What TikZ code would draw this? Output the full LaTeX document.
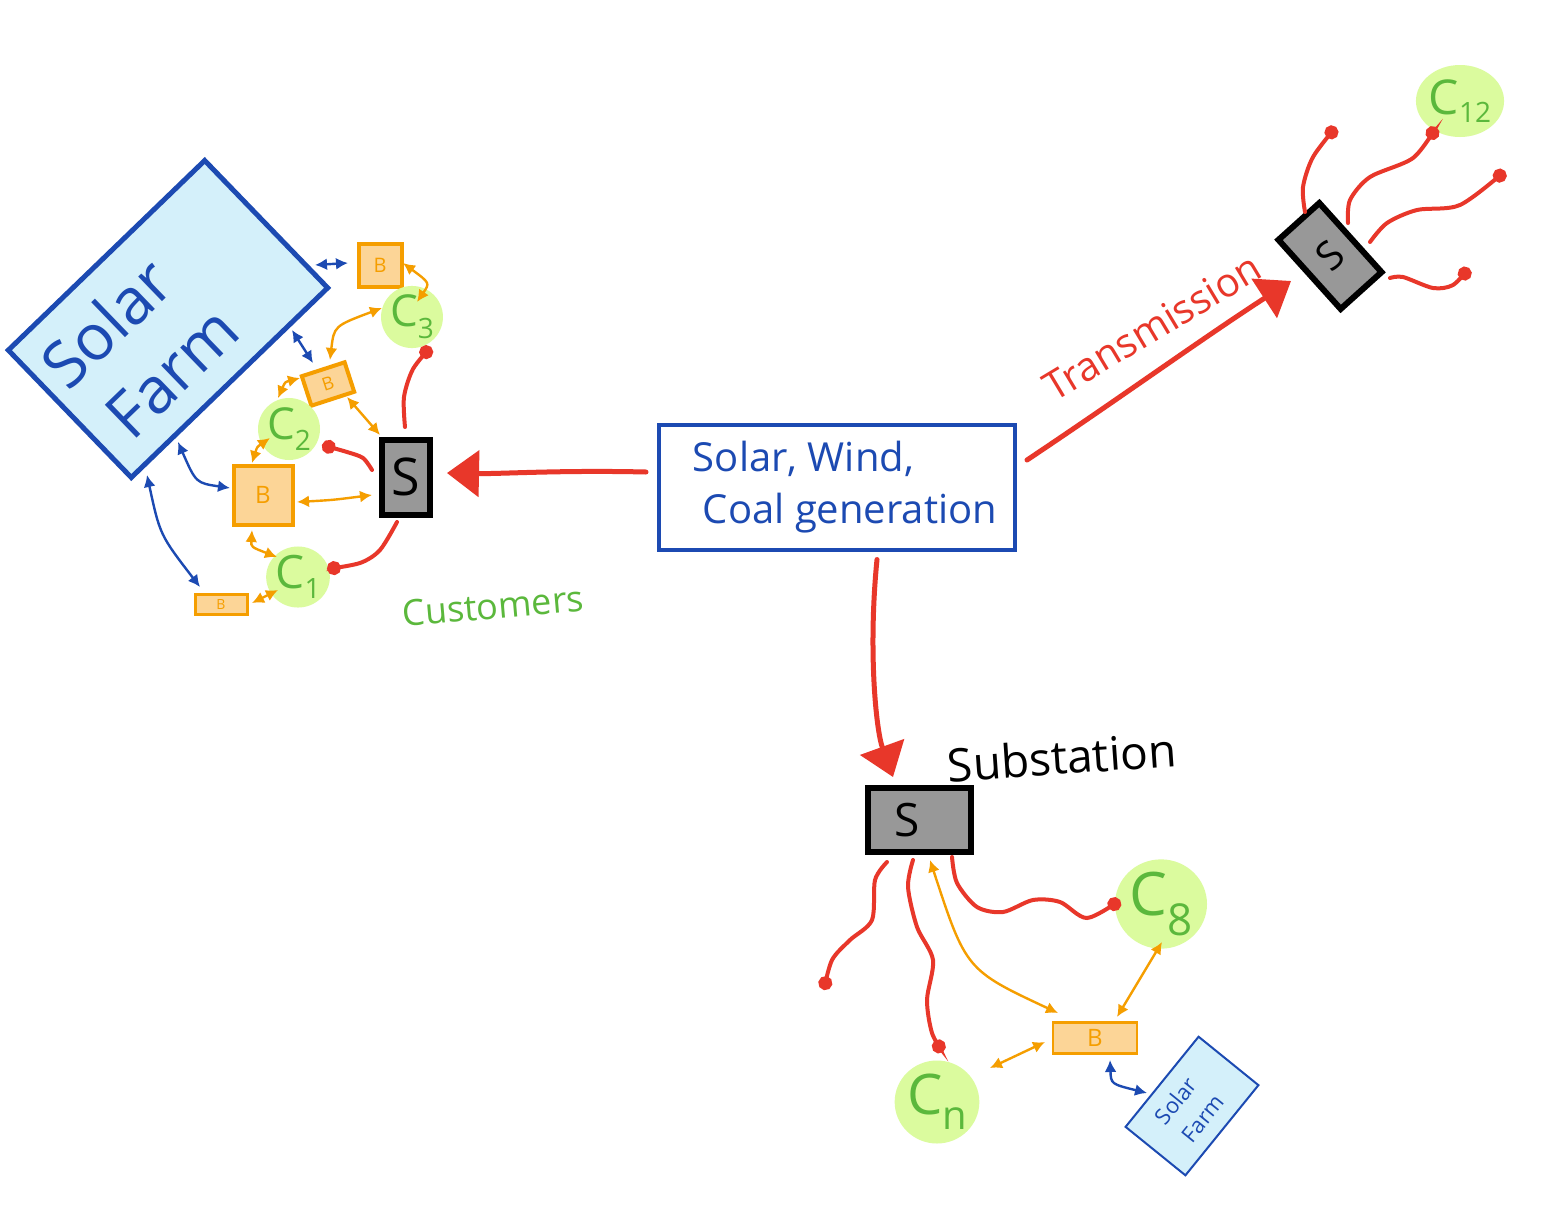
\documentclass[tikz,border=0pt]{standalone}
\usepackage{fontspec}
\setmainfont{Open Sans}
\usetikzlibrary{arrows.meta,shapes.geometric}
\definecolor{myblue}{HTML}{1C4AB2}
\definecolor{sfill}{HTML}{D4F0FA}
\definecolor{myorange}{HTML}{F59E00}
\definecolor{ofill}{HTML}{FCD597}
\definecolor{mygreen}{HTML}{5BB83C}
\definecolor{gfill}{HTML}{DBFB9E}
\definecolor{myred}{HTML}{E8372A}
\definecolor{sgray}{HTML}{989898}
\newcommand{\fs}[1]{\fontsize{#1}{#1}\selectfont}
\begin{document}
\begin{tikzpicture}[x=0.5pt,y=-0.5pt,
  bbox/.style={draw=myorange,fill=ofill,line width=2pt,text=myorange,inner sep=0pt},
  subst/.style={draw=black,fill=sgray,line width=3pt,inner sep=0pt},
  cblob/.style={ellipse,fill=gfill,text=mygreen,inner sep=0pt},
  farm/.style={draw=myblue,fill=sfill,text=myblue,inner sep=0pt},
  bigred/.style={draw=myred,line width=2.5pt,line cap=round,-{Triangle[length=16pt,width=23pt]}},
  feeder/.style={draw=myred,line width=2pt,line cap=round,-{Circle[length=7pt]}},
  oarr/.style={draw=myorange,line width=1.2pt,{Latex[length=6pt,width=6pt]}-{Latex[length=6pt,width=6pt]}},
  barr/.style={draw=myblue,line width=1.2pt,{Latex[length=6pt,width=6pt]}-{Latex[length=6pt,width=6pt]}},
]
\useasboundingbox[fill=white] (0,0) rectangle (1563,1221);

% ---------- big solar farm ----------
\node[farm,line width=2.5pt,minimum width=136.5pt,minimum height=88.5pt,rotate=44,align=center,font=\fontsize{32}{40}\selectfont] (SF) at (168,319) {Solar\rule{47pt}{0pt}\\Farm\rule{34pt}{0pt}};

% ---------- batteries ----------
\node[bbox,minimum width=21.5pt,minimum height=21.5pt,font=\fs{10}] (B1) at (380,265) {B};
\node[bbox,minimum width=22.5pt,minimum height=15.5pt,rotate=18,font=\fs{9}] (B2) at (328,384) {B};
\node[bbox,minimum width=29.5pt,minimum height=29.5pt,font=\fs{12}] (B3) at (263,495) {B};
\node[bbox,line width=1.5pt,minimum width=26pt,minimum height=10pt,font=\fs{7}] (B4) at (221,604) {B};
\node[bbox,line width=1.2pt,minimum width=42pt,minimum height=15.5pt,font=\fs{12}] (B5) at (1095,1038) {B};

% ---------- customers ----------
\node[cblob,minimum width=29pt,minimum height=29pt,font=\fs{22}] (C3) at (412,317) {C\raisebox{-0.5ex}{\fs{14}3}};
\node[cblob,minimum width=31pt,minimum height=31pt,font=\fs{22}] (C2) at (289,429) {C\raisebox{-0.5ex}{\fs{14}2}};
\node[cblob,minimum width=21.5pt,minimum height=28.5pt,font=\fs{23}] (C1) at (298,577) {C\raisebox{-0.4ex}{\fs{14}1}};
\node[cblob,minimum width=40pt,minimum height=36pt,font=\fs{24}] (C12) at (1460,101) {C\raisebox{-0.3ex}{\fs{14}12}};
\node[cblob,minimum width=46pt,minimum height=42.5pt,font=\fs{30}] (C8) at (1161,904) {C\raisebox{-0.6ex}{\fs{22}8}};
\node[cblob,minimum width=41pt,minimum height=41.5pt,font=\fs{28}] (Cn) at (937,1102) {C\raisebox{-0.5ex}{\fs{20}n}};

% ---------- substations ----------
\node[subst,minimum width=24pt,minimum height=37.5pt,font=\fs{26}] (SL) at (406,477) {S};
\node[subst,minimum width=27.5pt,minimum height=46.5pt,rotate=42,font=\fs{20}] (ST) at (1330,256) {S};
\node[subst,minimum width=51.5pt,minimum height=32pt,font=\fs{23}] (SB) at (919,820) {S\rule{12pt}{0pt}};

% ---------- generation box ----------
\node[draw=myblue,line width=2pt,minimum width=178pt,minimum height=62.5pt,inner sep=0pt,
      text=myblue,align=left,font=\fontsize{20}{26}\selectfont] (G) at (837,487)
      {\hspace*{8pt}Solar, Wind,\rule{38pt}{0pt}\\\hspace*{13pt}Coal generation};

% ---------- small solar farm ----------
\node[farm,line width=1pt,minimum width=58pt,minimum height=38.5pt,rotate=51,align=center,font=\fontsize{11}{16}\selectfont] (SF2) at (1192,1106) {Solar\rule{6pt}{0pt}\\Farm\rule{3pt}{0pt}};

% ---------- labels ----------
\node[text=mygreen,rotate=5,font=\fs{18}] (Lcust) at (493,606) {Customers};
\node[text=myred,rotate=31,font=\fs{20}] (Ltrans) at (1152,327) {Transmission};
\node[text=black,rotate=4,font=\fs{23}] (Lsub) at (1062,757) {Substation};

% ---------- big red arrows ----------
\draw[bigred] ([shift={(-11,-15)}]G.west) .. controls (560,470) and (500,474) .. ([shift={(14,-4)}]SL.east);
\draw[bigred] ([shift={(10,-27)}]G.east) .. controls (1120,398) and (1200,340) .. ([shift={(-39,25)}]ST.center);
\draw[bigred] ([shift={(40,8)}]G.south) .. controls (868,650) and (876,730) .. ([shift={(-26,-8)}]SB.north);

% ---------- red feeders ----------
\coordinate (fa1) at ([shift={(-1,-50)}]SL.center);
\coordinate (fd1) at (431,347);
\draw[feeder] plot[smooth] coordinates {(fa1) (404,397) (413,369) (fd1)};
\coordinate (fa2) at ([shift={(-34,-7)}]SL.center);
\coordinate (fd2) at (322,445);
\draw[feeder] plot[smooth] coordinates {(fa2) (363,458) (347,452) (fd2)};
\coordinate (fa3) at ([shift={(-9,45)}]SL.center);
\coordinate (fd3) at (327,569);
\draw[feeder] plot[smooth] coordinates {(fa3) (380,550) (360,563) (fd3)};

\coordinate (ta1) at ([shift={(-25,-44)}]ST.center);
\coordinate (td1) at (1336,127);
\draw[feeder] plot[smooth] coordinates {(ta1) (1303,187) (1313,157) (td1)};
\coordinate (ta2) at ([shift={(18,-33)}]ST.center);
\coordinate (td2) at (1436,127);
\draw[feeder] plot[smooth] coordinates {(ta2) (1350,200) (1370,177) (1413,158) (td2)};
\coordinate (ta3) at ([shift={(40,-14)}]ST.center);
\coordinate (td3) at (1505,171);
\draw[feeder] plot[smooth] coordinates {(ta3) (1387,223) (1417,210) (1460,205) (td3)};
\coordinate (ta4) at ([shift={(60,22)}]ST.center);
\coordinate (td4) at (1469,268);
\draw[feeder] plot[smooth] coordinates {(ta4) (1403,277) (1433,288) (1453,285) (td4)};

\coordinate (ba1) at ([shift={(-32,42)}]SB.center);
\coordinate (bd1) at (824,990);
\draw[feeder] plot[smooth] coordinates {(ba1) (875,880) (872,920) (850,940) (832,960) (bd1)};
\coordinate (ba2) at ([shift={(-6,40)}]SB.center);
\coordinate (bd2) at (943,1052);
\draw[feeder] plot[smooth] coordinates {(ba2) (908,887) (917,927) (933,960) (927,1000) (932,1033) (bd2)};
\coordinate (ba3) at ([shift={(33,37)}]SB.center);
\coordinate (bd3) at (1120,900);
\draw[feeder] plot[smooth] coordinates {(ba3) (957,883) (977,907) (1003,912) (1033,900) (1060,902) (1087,918) (bd3)};

% ---------- orange arrows ----------
\draw[oarr] ([shift={(23,-2)}]B1.center) .. controls (430,283) .. ([shift={(5,-15)}]C3.center);
\draw[oarr] ([shift={(-30,-9)}]C3.center) .. controls (334,326) .. ([shift={(2,-24)}]B2.center);
\draw[oarr] ([shift={(-28,-6)}]B2.center) .. controls (285,382) .. ([shift={(-11,-31)}]C2.center);
\draw[oarr] ([shift={(19,13)}]B2.center) -- ([shift={(-26,-42)}]SL.center);
\draw[oarr] ([shift={(-19,9)}]C2.center) .. controls (257,447) .. ([shift={(-11,-32)}]B3.center);
\draw[oarr] ([shift={(34,7)}]B3.center) .. controls (333,500) .. ([shift={(-34,18)}]SL.center);
\draw[oarr] ([shift={(-11,35)}]B3.center) .. controls (251,547) .. ([shift={(-21,-20)}]C1.center);
\draw[oarr] ([shift={(-20,13)}]C1.center) -- ([shift={(31,-1)}]B4.center);
\draw[oarr] ([shift={(11,40)}]SB.center) .. controls (966,970) .. ([shift={(-37,-25)}]B5.center);
\draw[oarr] ([shift={(22,-21)}]B5.center) -- ([shift={(1,38)}]C8.center);
\draw[oarr] ([shift={(-50,4)}]B5.center) -- ([shift={(53,-34)}]Cn.center);

% ---------- blue arrows ----------
\draw[barr] ([shift={(147,-54)}]SF.center) -- ([shift={(-32,-2)}]B1.center);
\draw[barr] ([shift={(124,11)}]SF.center) -- ([shift={(-15,-21)}]B2.center);
\draw[barr] ([shift={(10,123)}]SF.center) .. controls (196,483) .. ([shift={(-33,-7)}]B3.center);
\draw[barr] ([shift={(-21,156)}]SF.center) .. controls (160,535) .. ([shift={(-21,-17)}]B4.center);
\draw[barr] ([shift={(15,22)}]B5.center) .. controls (1111,1084) .. ([shift={(-45,-13)}]SF2.center);
\end{tikzpicture}
\end{document}
